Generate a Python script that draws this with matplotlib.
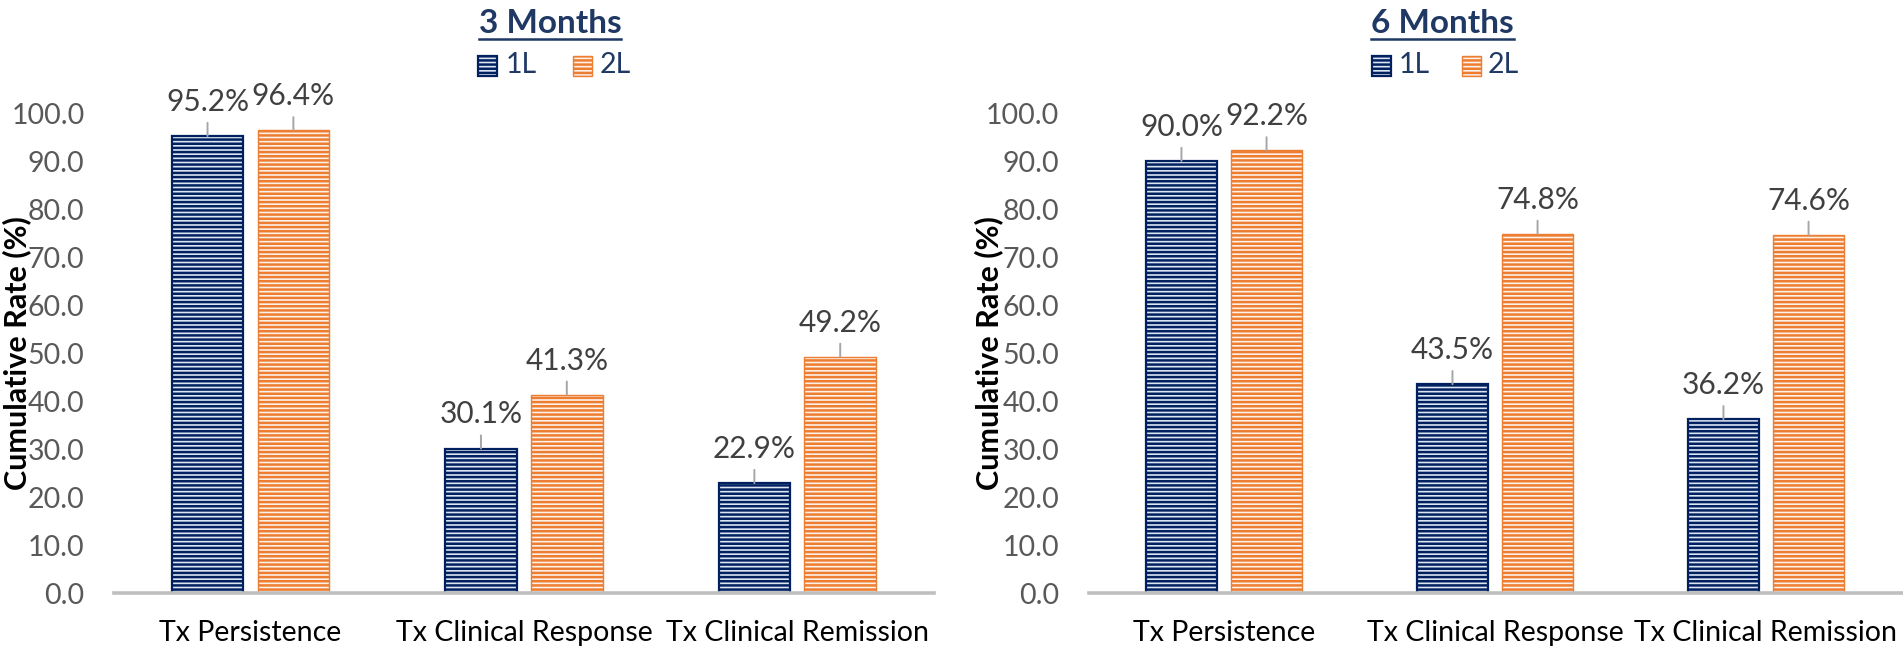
import matplotlib
matplotlib.use("Agg")
import matplotlib.pyplot as plt
from matplotlib.patches import Rectangle
from matplotlib.lines import Line2D
import numpy as np

plt.rcParams['font.family'] = ['Lato', 'DejaVu Sans']
plt.rcParams['hatch.linewidth'] = 1.8

categories = ["Tx Persistence", "Tx Clinical Response", "Tx Clinical Remission"]
series_names = ["1L", "2L"]
m3_1L = [95.2, 30.1, 22.9]
m3_2L = [96.4, 41.3, 49.2]
m6_1L = [90.0, 43.5, 36.2]
m6_2L = [92.2, 74.8, 74.6]
panel_titles = ["3 Months", "6 Months"]
yticks = [0, 10, 20, 30, 40, 50, 60, 70, 80, 90, 100]
ylabel = "Cumulative Rate (%)"

NAVY = "#002060"
BLUE_FACE = "#DCE6F2"
ORANGE = "#ED7D31"
ORANGE_FACE = "#FDF0E7"
TITLE_C = "#1F3864"
TICK_C = "#595959"
LABEL_C = "#404040"
AXIS_C = "#BFBFBF"

W, H = 1903, 651
fig = plt.figure(figsize=(W / 100, H / 100), dpi=100)

def fx(px):
    return px / W

def fy(py_from_top):
    return (H - py_from_top) / H

panels = [
    dict(left=113.75, right=934, data=(m3_1L, m3_2L), title=panel_titles[0],
         tcx=550, ylab_x=17, leg=(478, 506, 573, 600)),
    dict(left=1088.5, right=1901.5, data=(m6_1L, m6_2L), title=panel_titles[1],
         tcx=1442.5, ylab_x=989, leg=(1372, 1399, 1462, 1488)),
]
top_px, bot_px = 113, 593
bw = 0.262
off = 0.157

renderer = fig.canvas.get_renderer()

for p in panels:
    ax = fig.add_axes([fx(p['left']), fy(bot_px), fx(p['right'] - p['left']), (bot_px - top_px) / H])
    x = np.arange(len(categories))
    d1, d2 = p['data']
    b1 = ax.bar(x - off, d1, bw, facecolor=BLUE_FACE, edgecolor=NAVY, hatch='----', linewidth=1.6, zorder=2)
    b2 = ax.bar(x + off, d2, bw, facecolor=ORANGE_FACE, edgecolor=ORANGE, hatch='----', linewidth=1.0, zorder=2)
    for bars, vals in ((b1, d1), (b2, d2)):
        for rect, v in zip(bars, vals):
            cx = rect.get_x() + rect.get_width() / 2
            ax.annotate('', xy=(cx, v), xytext=(0, 9.5), textcoords='offset points',
                        arrowprops=dict(arrowstyle='-', color='#A6A6A6', lw=1.4, shrinkA=0, shrinkB=0),
                        annotation_clip=False)
            ax.annotate(f"{v:.1f}%", xy=(cx, v), xytext=(0, 24.5), textcoords='offset points',
                        ha='center', va='center', fontsize=21.5, color=LABEL_C, annotation_clip=False)
    ax.set_xlim(-0.5, 2.5)
    ax.set_ylim(0, 100)
    ax.set_yticks(yticks)
    ax.set_yticklabels([f"{t:.1f}" for t in yticks])
    ax.set_xticks(x)
    ax.set_xticklabels(categories)
    ax.tick_params(axis='y', length=0, pad=21, labelsize=20.5, labelcolor=TICK_C)
    ax.tick_params(axis='x', length=0, pad=19.5, labelsize=20.5, labelcolor='black')
    for s in ('top', 'right', 'left'):
        ax.spines[s].set_visible(False)
    ax.spines['bottom'].set_color(AXIS_C)
    ax.spines['bottom'].set_linewidth(2.6)
    ax.patch.set_alpha(0)

    fig.text(fx(p['ylab_x']), fy((top_px + bot_px) / 2), ylabel, rotation=90,
             ha='center', va='center', fontsize=22, fontweight='bold', color='black')

    t = fig.text(fx(p['tcx']), fy(33), p['title'], ha='center', va='baseline',
                 fontsize=24, fontweight='bold', color=TITLE_C)
    bb = t.get_window_extent(renderer)
    fig.add_artist(Line2D([bb.x0 / W, bb.x1 / W], [fy(39), fy(39)], transform=fig.transFigure,
                          color=TITLE_C, lw=1.8))

    sq1, tx1, sq2, tx2 = p['leg']
    s = 19
    fig.add_artist(Rectangle((fx(sq1), fy(66 + s / 2)), fx(s), s / H, transform=fig.transFigure,
                             facecolor=BLUE_FACE, edgecolor=NAVY, hatch='----', linewidth=1.6))
    fig.text(fx(tx1), fy(65), series_names[0], ha='left', va='center', fontsize=20.5, color=TITLE_C)
    fig.add_artist(Rectangle((fx(sq2), fy(66 + s / 2)), fx(s), s / H, transform=fig.transFigure,
                             facecolor=ORANGE_FACE, edgecolor=ORANGE, hatch='----', linewidth=1.0))
    fig.text(fx(tx2), fy(65), series_names[1], ha='left', va='center', fontsize=20.5, color=TITLE_C)

fig.savefig("out.png", dpi=100)
